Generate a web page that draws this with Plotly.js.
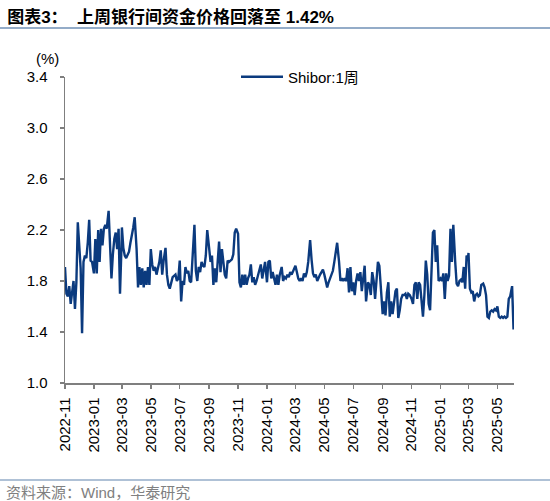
<!DOCTYPE html>
<html>
<head>
<meta charset="utf-8">
<script src="https://cdn.plot.ly/plotly-3.0.1.min.js"></script>
<style>
  html, body { margin: 0; padding: 0; background: #ffffff; }
  #chart { width: 550px; height: 501px; }
</style>
</head>
<body>
<div id="chart"></div>
<script>
// Months covered by the series (one block of sample days per month)
const months = [
  '2022-11','2022-12',
  '2023-01','2023-02','2023-03','2023-04','2023-05','2023-06',
  '2023-07','2023-08','2023-09','2023-10','2023-11','2023-12',
  '2024-01','2024-02','2024-03','2024-04','2024-05','2024-06',
  '2024-07','2024-08','2024-09','2024-10','2024-11','2024-12',
  '2025-01','2025-02','2025-03','2025-04','2025-05','2025-06'
];
// Sample days inside each month
const sampleDays = ['01','04','07','10','13','16','19','22','25','28'];

// Shibor 1W (%), 10 samples per month
const shibor2022 = [
  1.91,1.70,1.68,1.76,1.62,1.72,1.80,1.58,1.79,2.26,
  2.05,1.90,1.39,1.95,2.00,1.98,2.10,2.28,1.96,1.95
];
const shibor2023 = [
  1.86,2.13,1.86,2.20,1.95,2.21,2.08,2.21,2.24,2.21,
  2.35,2.08,1.82,2.01,2.13,2.18,2.05,2.21,1.70,2.05,
  2.22,2.06,2.00,1.98,2.00,2.03,2.10,2.15,2.22,2.30,
  2.05,1.75,1.91,1.77,1.90,1.75,1.88,1.77,1.91,1.77,
  2.05,1.93,1.88,1.91,1.85,1.90,1.95,2.04,1.85,1.96,
  2.06,1.85,1.77,1.74,1.80,1.83,1.84,1.85,1.80,1.82,
  1.96,1.64,1.80,1.77,1.91,1.86,1.88,1.80,1.79,1.97,
  2.24,1.88,1.80,1.91,1.87,1.95,1.92,1.91,2.00,2.20,
  2.08,1.95,2.00,1.77,1.90,1.79,1.95,2.11,1.87,2.05,
  1.95,1.85,1.82,1.96,1.95,1.96,1.97,2.01,2.18,2.21,
  2.17,1.79,1.75,1.85,1.77,1.85,1.77,1.82,1.85,1.93,
  1.79,1.83,1.77,1.80,1.84,1.88,1.93,1.82,1.88,1.95
];
const shibor2024 = [
  1.79,1.95,1.96,1.82,1.87,1.83,1.77,1.85,1.77,1.85,
  1.91,1.80,1.83,1.82,1.85,1.83,1.87,1.85,1.88,1.91,
  1.92,1.87,1.82,1.80,1.82,1.80,1.86,1.83,1.87,1.95,
  2.12,1.97,1.86,1.83,1.85,1.80,1.83,1.85,1.87,1.89,
  1.85,1.79,1.75,1.79,1.82,1.86,1.88,1.95,2.04,2.10,
  1.95,1.80,1.82,1.80,1.82,1.80,1.90,1.71,1.91,1.72,
  1.79,1.69,1.80,1.86,1.80,1.87,1.72,1.85,1.92,1.64,
  1.79,1.77,1.69,1.87,1.80,1.66,1.83,1.95,1.92,1.78,
  1.54,1.64,1.53,1.71,1.79,1.52,1.64,1.54,1.65,1.72,
  1.74,1.51,1.57,1.66,1.69,1.69,1.70,1.66,1.70,1.69,
  1.66,1.62,1.77,1.79,1.66,1.79,1.77,1.64,1.52,1.69,
  1.96,1.85,1.62,1.57,1.95,2.18,2.20,1.95,2.08,1.80
];
const shibor2025 = [
  1.82,1.80,1.86,1.66,1.86,1.80,1.84,2.21,1.95,2.24,
  1.95,1.78,1.76,1.80,1.81,1.79,1.91,1.74,2.00,1.97,
  2.02,1.74,1.71,1.72,1.64,1.69,1.70,1.68,1.69,1.77,
  1.78,1.75,1.69,1.52,1.51,1.56,1.57,1.56,1.58,1.57,
  1.60,1.52,1.51,1.52,1.51,1.52,1.51,1.52,1.66,1.68,
  1.76,1.42
];

// Axis tick labels
const tickLabels = [
  '2022-11','2023-01','2023-03','2023-05','2023-07','2023-09','2023-11',
  '2024-01','2024-03','2024-05','2024-07','2024-09','2024-11',
  '2025-01','2025-03','2025-05'
];
const yTicks = [1.0, 1.4, 1.8, 2.2, 2.6, 3.0, 3.4];

const seriesName = 'Shibor:1周';
const titleText = '图表3：  上周银行间资金价格回落至 1.42%';
const unitText = '(%)';
const sourceText = '资料来源：Wind，华泰研究';

// Build the table
const values = [].concat(shibor2022, shibor2023, shibor2024, shibor2025);
const dates = values.map((v, i) =>
  months[Math.floor(i / sampleDays.length)] + '-' + sampleDays[i % sampleDays.length]);

const latin = 'Liberation Sans, Arial, Noto Sans CJK SC, sans-serif';
const cjk = 'Liberation Sans, Noto Sans CJK SC, sans-serif';
const axisGray = '#7f7f7f';
const ruleBlue = '#94acc8';

const trace = {
  x: dates,
  y: values,
  type: 'scatter',
  mode: 'lines',
  name: seriesName,
  line: { color: '#0b3a7e', width: 2.4 },
  hoverinfo: 'skip'
};

const layout = {
  width: 550,
  height: 501,
  margin: { l: 65, r: 36, t: 77, b: 118 },
  paper_bgcolor: '#ffffff',
  plot_bgcolor: '#ffffff',
  font: { family: cjk, color: '#000000', size: 15 },
  title: {
    text: '<b>' + titleText + '</b>',
    font: { family: cjk, size: 17, color: '#000000' },
    x: 0.013, xanchor: 'left', xref: 'container',
    y: 1 - 17 / 501, yanchor: 'middle', yref: 'container'
  },
  showlegend: true,
  legend: {
    x: (236 - 65) / 449, xanchor: 'left',
    y: (383 - 77) / 306, yanchor: 'middle',
    bgcolor: 'rgba(0,0,0,0)',
    borderwidth: 0,
    itemwidth: 42,
    font: { family: cjk, size: 15, color: '#000000' }
  },
  xaxis: {
    type: 'date',
    range: ['2022-11-01', '2025-06-05'],
    tickmode: 'array',
    tickvals: tickLabels.map(t => t + '-01'),
    ticktext: tickLabels,
    tickangle: -90,
    tickfont: { family: latin, size: 15, color: '#000000' },
    ticks: 'outside', ticklen: 4, tickwidth: 1.5, tickcolor: axisGray,
    ticklabelstandoff: 3,
    showline: true, linecolor: axisGray, linewidth: 1.5,
    showgrid: false, zeroline: false
  },
  yaxis: {
    range: [1.0, 3.4],
    tickmode: 'array',
    tickvals: yTicks,
    ticktext: yTicks.map(v => v.toFixed(1)),
    tickfont: { family: latin, size: 15, color: '#000000' },
    ticks: 'outside', ticklen: 4, tickwidth: 1.5, tickcolor: axisGray,
    ticklabelstandoff: 9,
    showline: true, linecolor: axisGray, linewidth: 1.5,
    showgrid: false, zeroline: false
  },
  shapes: [
    { type: 'line', xref: 'paper', yref: 'paper',
      x0: -65 / 449, x1: 485 / 449, y0: (383 - 28) / 306, y1: (383 - 28) / 306,
      line: { color: ruleBlue, width: 2 } },
    { type: 'line', xref: 'paper', yref: 'paper',
      x0: -65 / 449, x1: 485 / 449, y0: (383 - 480) / 306, y1: (383 - 480) / 306,
      line: { color: ruleBlue, width: 1.5 } }
  ],
  annotations: [
    { text: unitText, xref: 'paper', yref: 'paper',
      x: (47 - 65) / 449, y: (383 - 58) / 306, xanchor: 'center', yanchor: 'middle',
      showarrow: false, font: { family: latin, size: 15, color: '#000000' } },
    { text: sourceText, xref: 'paper', yref: 'paper',
      x: (4 - 65) / 449, y: (383 - 492) / 306, xanchor: 'left', yanchor: 'middle',
      showarrow: false, font: { family: cjk, size: 15, color: '#808080' } }
  ]
};

Plotly.newPlot('chart', [trace], layout, { staticPlot: true, displayModeBar: false });
</script>
</body>
</html>
